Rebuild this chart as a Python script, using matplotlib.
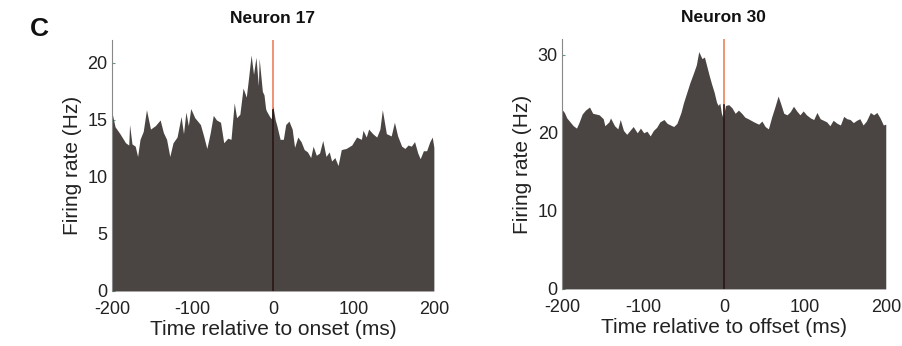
import matplotlib
matplotlib.use("Agg")
import matplotlib.pyplot as plt

plt.rcParams['font.family'] = ['Liberation Sans', 'DejaVu Sans']
plt.rcParams['axes.unicode_minus'] = False

# Neuron 17 (onset-aligned)
t17 = [-200, -196, -190, -183, -179, -178, -175, -171, -168, -165, -161, -157, -152, -146, -140,
       -136, -132, -128, -124, -119, -114, -111, -108, -105, -102, -97, -90, -86, -82, -78, -74,
       -70, -65, -61, -56, -52, -48, -45, -41, -37, -33, -30, -27, -24, -21, -18, -17, -13, -11,
       -9, -8, -4, -2, 0, 3, 5, 9, 13, 16, 20, 24, 27, 31, 35, 39, 43, 47, 50, 54, 58, 62, 66, 70,
       73, 77, 81, 85, 91, 98, 104, 110, 112, 116, 119, 124, 129, 133, 136, 141, 147, 151, 155,
       160, 164, 168, 172, 176, 180, 183, 187, 191, 195, 198, 200]
r17 = [15.7, 14.4, 13.8, 13.0, 12.8, 14.6, 12.9, 12.7, 11.8, 13.3, 14.0, 15.9, 14.2, 14.5, 15.0,
       13.9, 13.3, 11.8, 13.0, 13.5, 15.3, 13.8, 15.7, 14.5, 16.0, 15.2, 14.6, 13.6, 12.5, 13.8, 15.4,
       15.0, 14.8, 13.0, 13.4, 13.3, 16.5, 15.2, 15.5, 17.8, 17.0, 18.8, 20.7, 19.0, 20.5, 18.0, 20.4,
       17.5, 17.2, 16.0, 15.8, 15.3, 15.1, 16.2, 15.0, 14.5, 13.3, 13.3, 14.6, 14.9, 14.2, 12.6, 13.5,
       13.1, 12.4, 12.2, 11.7, 12.7, 11.9, 12.1, 13.2, 11.8, 12.2, 11.4, 11.7, 11.0, 12.4, 12.5, 12.8,
       13.5, 13.3, 14.1, 13.5, 14.2, 13.8, 13.5, 14.2, 15.9, 13.8, 13.6, 14.8, 13.6, 12.7, 12.5, 12.8,
       12.7, 13.1, 12.1, 11.6, 12.3, 12.3, 13.1, 13.5, 12.6]

# Neuron 30 (offset-aligned)
t30 = [-200, -197, -194, -190, -186, -182, -179, -175, -171, -166, -162, -158, -154, -149, -147,
       -142, -140, -135, -131, -128, -124, -120, -116, -112, -107, -103, -99, -95, -91, -87, -83,
       -79, -74, -70, -66, -62, -58, -53, -50, -46, -42, -37, -34, -31, -27, -24, -21, -18, -15,
       -12, -9, -7, -5, -3, -1, 2, 6, 10, 14, 18, 22, 26, 30, 37, 43, 47, 51, 55, 59, 63, 67, 70,
       74, 78, 82, 86, 90, 94, 98, 102, 107, 111, 115, 119, 123, 127, 131, 135, 140, 144, 148, 152,
       156, 160, 164, 168, 172, 176, 181, 185, 189, 193, 197, 200]
r30 = [23.0, 22.6, 21.9, 21.4, 20.9, 20.6, 21.3, 22.4, 22.9, 23.3, 22.5, 22.4, 22.3, 21.8, 20.9,
       21.4, 21.9, 20.9, 20.5, 21.7, 20.3, 19.8, 20.3, 20.8, 20.0, 20.6, 20.0, 20.2, 19.6, 20.3, 20.7,
       21.4, 21.7, 21.2, 21.0, 20.8, 21.2, 22.6, 23.8, 25.1, 26.4, 27.8, 28.7, 30.4, 29.5, 29.7, 28.5,
       27.3, 26.2, 25.2, 23.9, 23.5, 23.8, 22.5, 21.9, 23.5, 23.6, 23.2, 22.5, 22.9, 22.5, 22.0, 21.8,
       21.4, 21.1, 21.5, 20.8, 20.5, 22.0, 23.3, 24.7, 23.8, 22.5, 22.3, 22.7, 23.4, 22.8, 22.3, 22.8,
       22.3, 21.9, 21.7, 22.6, 21.8, 21.6, 21.4, 20.9, 21.6, 21.2, 21.0, 22.1, 21.8, 21.7, 21.3, 21.6,
       21.8, 21.0, 21.5, 22.6, 22.3, 22.6, 21.9, 21.0, 21.1]

panels = [
    dict(t=t17, r=r17, title="Neuron 17", xlabel="Time relative to onset (ms)",
         ylim=22, yticks=[0, 5, 10, 15, 20], rect=[0.124, 0.159, 0.357, 0.725]),
    dict(t=t30, r=r30, title="Neuron 30", xlabel="Time relative to offset (ms)",
         ylim=32, yticks=[0, 10, 20, 30], rect=[0.623, 0.165, 0.359, 0.722]),
]

fill_color = '#4a4543'
fig = plt.figure(figsize=(9.02, 3.46), dpi=100)

for p in panels:
    ax = fig.add_axes(p['rect'])
    ax.axvline(0, color='#f08a6a', lw=1.3, zorder=1)
    ax.fill_between(p['t'], 0, p['r'], color=fill_color, lw=0, zorder=2)
    h0 = p['r'][p['t'].index(0)] if 0 in p['t'] else p['r'][len(p['r']) // 2]
    ax.plot([0, 0], [0, h0 - 0.3], color='#2a1515', lw=1.2, zorder=3)
    ax.set_xlim(-200, 200)
    ax.set_ylim(0, p['ylim'])
    ax.set_xticks([-200, -100, 0, 100, 200])
    ax.set_yticks(p['yticks'])
    for s in ['top', 'right', 'bottom']:
        ax.spines[s].set_visible(False)
    ax.spines['left'].set_color('#888888')
    ax.spines['left'].set_linewidth(0.8)
    ax.tick_params(axis='x', length=0, labelsize=13, pad=7, colors='#222222')
    ax.tick_params(axis='y', direction='in', length=2, width=0.8, color='#5a9a8a',
                   labelsize=13, pad=3, labelcolor='#222222')
    ax.set_xlabel(p['xlabel'], fontsize=15, labelpad=2, color='#222222')
    ax.set_ylabel("Firing rate (Hz)", fontsize=15, labelpad=4, color='#222222')
    ax.set_title(p['title'], fontsize=12.5, fontweight='bold', pad=12, color='#111111')

fig.text(0.033, 0.895, "C", fontsize=19, fontweight='bold', color='#111111')

fig.savefig("out.png", dpi=100)
